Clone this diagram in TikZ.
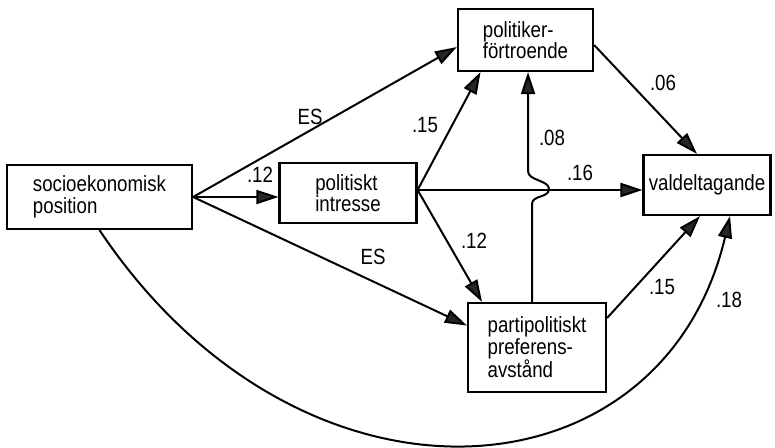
\documentclass[tikz,border=0pt]{standalone}
\usepackage{fontspec}
\setmainfont{Liberation Sans}[FakeStretch=0.85]
\usetikzlibrary{arrows.meta,calc}
\begin{document}
\begin{tikzpicture}[x=1pt,y=-1pt,
 box/.style={draw,line width=2.2pt,align=left,inner sep=0pt,font=\fontsize{22}{21.5}\selectfont},
 lab/.style={inner sep=0pt,font=\fontsize{22}{22}\selectfont},
 arr/.style={line width=2pt,-{Triangle[length=22pt,width=14pt,fill=black!85]}},
 ln/.style={line width=2pt}]
\useasboundingbox (0,0) rectangle (775,447);
% boxes
\node[box,minimum width=185pt,minimum height=64pt] (se) at (99.5,197) {socioekonomisk\\position};
\node[box,minimum width=137pt,minimum height=60pt] (pi) at (348,193) {politiskt\\intresse};
\node[box,minimum width=135pt,minimum height=62pt] (pf) at (525.5,40) {politiker-\\förtroende};
\node[box,minimum width=127pt,minimum height=60pt] (vd) at (707,185) {valdeltagande};
\node[box,minimum width=138pt,minimum height=89pt] (pp) at (537,347.5) {partipolitiskt\\preferens-\\avstånd};
% connectors
\draw[arr] (se.east) -- ([yshift=-7pt]pf.west);
\draw[arr] (se.east) -- ([yshift=-4pt]pi.west);
\draw[arr] (se.east) -- ([yshift=22pt]pp.west);
\draw[arr] ([yshift=3pt]pi.east) -- ([xshift=-45pt]pf.south);
\draw[arr] ([yshift=3pt]pi.east) -- ([yshift=-5pt]vd.west);
\draw[arr] ([yshift=3pt]pi.east) -- ([xshift=-55pt]pp.north);
\coordinate (bb) at (532,204);
\coordinate (bt) at (528,171);
\draw[arr] (pp.north -| bb) -- (bb) .. controls (532,195) and (549,198) .. (549,189)
  .. controls (549,180) and (528,181) .. (bt) -- (pf.south -| bt);
\draw[arr] ([yshift=-5pt]pf.east) -- ([xshift=-10pt]vd.north);
\draw[arr] ([yshift=29.5pt]pp.east) -- ([xshift=-7pt]vd.south);
\draw[arr] (se.south) .. controls (300,530) and (662,505) .. ([xshift=23pt]vd.south);
% labels
\node[lab] (l1) at (310,117) {ES};
\node[lab] (l2) at (260,175) {.12};
\node[lab] (l3) at (373,257) {ES};
\node[lab] (l4) at (425,125) {.15};
\node[lab] (l5) at (552,138) {.08};
\node[lab] (l6) at (580,173) {.16};
\node[lab] (l7) at (663,83) {.06};
\node[lab] (l8) at (474,241) {.12};
\node[lab] (l9) at (662,287) {.15};
\node[lab] (l10) at (729,300) {.18};
\end{tikzpicture}
\end{document}
